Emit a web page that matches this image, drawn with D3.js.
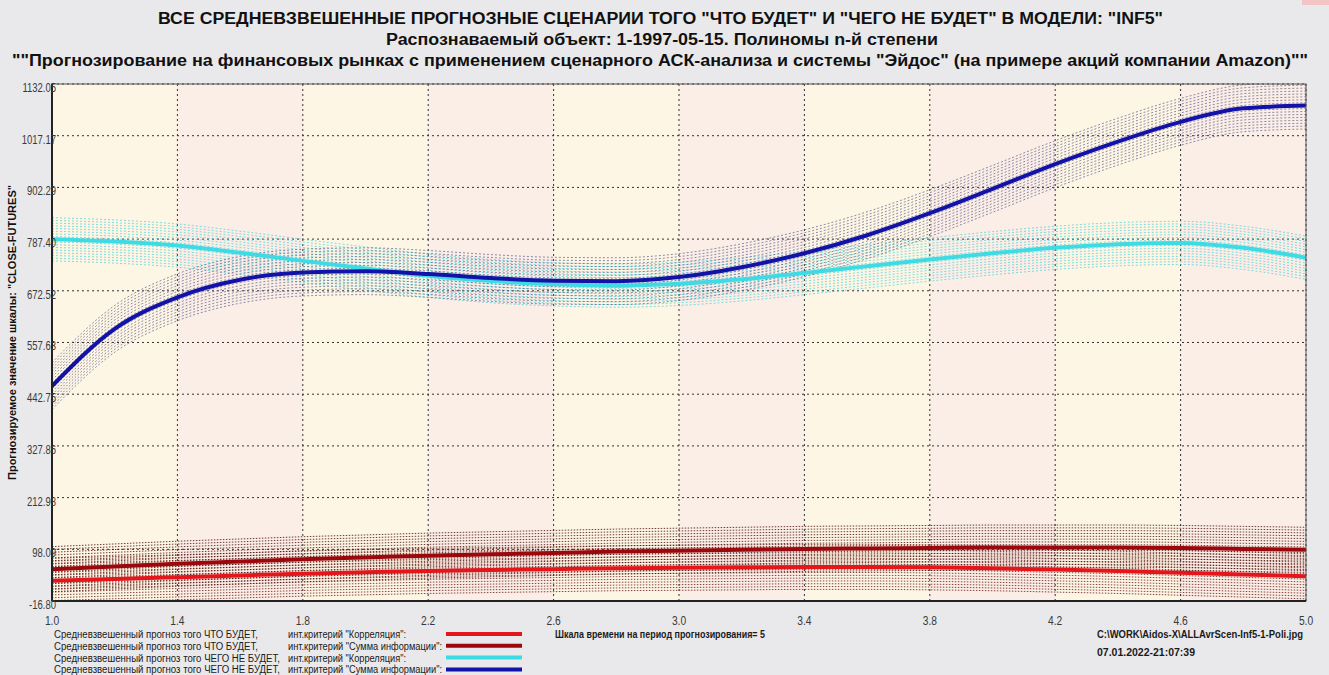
<!DOCTYPE html>
<html>
<head>
<meta charset="utf-8">
<script src="https://cdn.jsdelivr.net/npm/d3@7"></script>
<style>
  body { margin: 0; background: #e9e9eb; }
  svg { display: block; }
  text { font-family: "Liberation Sans", Arial, sans-serif; }
</style>
</head>
<body>
<div id="chart"></div>
<script>
// data
var timePoints = [1.0, 1.2, 1.4, 1.6, 1.8, 2.0, 2.2, 2.4, 2.6, 2.8, 3.0, 3.2, 3.4, 3.6, 3.8, 4.0, 4.2, 4.4, 4.6, 4.8, 5.0];
var willBeCorrelation = [28, 32, 36, 40, 44, 47, 50, 52, 54, 56, 57, 58, 59, 59, 58, 56, 53, 50, 46, 42, 38];
var willBeInfoSum = [54, 60, 66, 71, 76, 80, 84, 87, 90, 93, 95, 97, 99, 100, 101, 102, 102, 102, 101, 99, 97];
var willNotBeCorrelation = [787, 782, 773, 757, 739, 722, 706, 694, 687, 684, 688, 698, 712, 727, 742, 756, 768, 776, 779, 768, 746];
var willNotBeInfoSum = [461, 588, 658, 697, 713, 716, 710, 701, 695, 694, 703, 725, 756, 796, 845, 899, 954, 1004, 1048, 1078, 1084];

var xTicks = [1.0, 1.4, 1.8, 2.2, 2.6, 3.0, 3.4, 3.8, 4.2, 4.6, 5.0];
var yTicks = [1132.05, 1017.17, 902.29, 787.40, 672.52, 557.63, 442.75, 327.86, 212.98, 98.09, -16.80];

var seriesNames = [
  ["Средневзвешенный прогноз того ЧТО БУДЕТ,", "инт.критерий \"Корреляция\":"],
  ["Средневзвешенный прогноз того ЧТО БУДЕТ,", "инт.критерий \"Сумма информации\":"],
  ["Средневзвешенный прогноз того ЧЕГО НЕ БУДЕТ,", "инт.критерий \"Корреляция\":"],
  ["Средневзвешенный прогноз того ЧЕГО НЕ БУДЕТ,", "инт.критерий \"Сумма информации\":"],
];
var seriesValues = [willBeCorrelation, willBeInfoSum, willNotBeCorrelation, willNotBeInfoSum];
var seriesColors = ["#e4161c", "#9c070d", "#3edbe4", "#1212a6"];
var bandColors = ["#6a1818", "#4a0c0c", "#48cfd8", "#5c5c8c"];
var bandSpread = [50, 50, 48, 52]; // half width of the dotted band, in scale units

var titleLines = [
  "ВСЕ СРЕДНЕВЗВЕШЕННЫЕ ПРОГНОЗНЫЕ СЦЕНАРИИ ТОГО \"ЧТО БУДЕТ\" И \"ЧЕГО НЕ БУДЕТ\" В МОДЕЛИ: \"INF5\"",
  "Распознаваемый объект: 1-1997-05-15. Полиномы n-й степени",
  "\"\"Прогнозирование на финансовых рынках с применением сценарного АСК-анализа и системы \"Эйдос\" (на примере акций компании Amazon)\"\"",
];

var width = 1329, height = 675;
var margin = { top: 84, right: 23, bottom: 74, left: 52 };
var plotW = width - margin.left - margin.right;
var plotH = height - margin.top - margin.bottom;

/**
 * It writes a condensed text squeezed to a given width
 */
function fitText(parent, x, y, w, str, size, bold) {
  return parent.append("text")
    .attr("x", x)
    .attr("y", y)
    .attr("textLength", w)
    .attr("lengthAdjust", "spacingAndGlyphs")
    .style("font-size", size + "px")
    .style("font-weight", bold ? "bold" : "normal")
    .attr("fill", "#1a1a1a")
    .text(str);
}

var svg = d3.select("#chart").append("svg")
  .attr("width", width)
  .attr("height", height);

svg.append("rect").attr("width", width).attr("height", height).attr("fill", "#e9e9eb");
// small mark in the top right corner
svg.append("rect").attr("x", 1302).attr("y", 0).attr("width", 27).attr("height", 5).attr("fill", "#f3c4c4");

// titles
var titleSpans = [[158, 1163], [386, 938], [12, 1308]];
titleLines.forEach(function (t, i) {
  fitText(svg, titleSpans[i][0], 24 + i * 21, titleSpans[i][1] - titleSpans[i][0], t, 16, true)
    .attr("fill", "#111");
});

var g = svg.append("g").attr("transform", "translate(" + margin.left + "," + margin.top + ")");

var xScale = d3.scaleLinear().domain([1.0, 5.0]).range([0, plotW]);
var yScale = d3.scaleLinear().domain([-16.80, 1132.05]).range([plotH, 0]);

// alternating background columns
g.selectAll("rect.col")
  .data(d3.pairs(xTicks))
  .enter()
  .append("rect")
  .attr("class", "col")
  .attr("x", function (d) { return xScale(d[0]); })
  .attr("y", 0)
  .attr("width", function (d) { return xScale(d[1]) - xScale(d[0]); })
  .attr("height", plotH)
  .attr("fill", function (d, i) { return i % 2 == 0 ? "#fdf6e4" : "#fbeee6"; });

g.append("clipPath").attr("id", "plotClip")
  .append("rect").attr("width", plotW).attr("height", plotH);

// dotted grid
g.append("g")
  .selectAll("line")
  .data(yTicks)
  .enter()
  .append("line")
  .attr("x1", 0).attr("x2", plotW)
  .attr("y1", function (d) { return yScale(d); })
  .attr("y2", function (d) { return yScale(d); })
  .attr("stroke", "#333")
  .attr("stroke-dasharray", "2,3")
  .attr("stroke-width", 1);

g.append("g")
  .selectAll("line")
  .data(xTicks)
  .enter()
  .append("line")
  .attr("y1", 0).attr("y2", plotH)
  .attr("x1", function (d) { return xScale(d); })
  .attr("x2", function (d) { return xScale(d); })
  .attr("stroke", "#333")
  .attr("stroke-dasharray", "2,3")
  .attr("stroke-width", 1);

var line = function (offset) {
  return d3.line()
    .x(function (d, i) { return xScale(timePoints[i]); })
    .y(function (d) { return yScale(d + offset); })
    .curve(d3.curveMonotoneX);
};

var plot = g.append("g").attr("clip-path", "url(#plotClip)");

// dotted bands around every series
var bandSteps = 8;
seriesValues.forEach(function (vals, s) {
  for (var k = -bandSteps; k <= bandSteps; k++) {
    if (k == 0) continue;
    plot.append("path")
      .datum(vals)
      .attr("d", line(bandSpread[s] * k / bandSteps))
      .attr("fill", "none")
      .attr("stroke", bandColors[s])
      .attr("stroke-width", 1)
      .attr("stroke-opacity", s < 2 ? 0.8 : 0.7)
      .attr("stroke-dasharray", s < 2 ? "1.5,1.5" : "2,2");
  }
});

// main lines
seriesValues.forEach(function (vals, s) {
  plot.append("path")
    .datum(vals)
    .attr("d", line(0))
    .attr("fill", "none")
    .attr("stroke", seriesColors[s])
    .attr("stroke-width", 4)
    .attr("stroke-linecap", "round");
});

// frame
g.append("rect")
  .attr("width", plotW).attr("height", plotH)
  .attr("fill", "none")
  .attr("stroke", "#555")
  .attr("stroke-width", 1);
g.append("line").attr("x1", 0).attr("x2", 0).attr("y1", 0).attr("y2", plotH)
  .attr("stroke", "#222").attr("stroke-width", 2);
g.append("line").attr("x1", 0).attr("x2", plotW).attr("y1", plotH).attr("y2", plotH)
  .attr("stroke", "#222").attr("stroke-width", 2);

// tick labels, condensed
g.append("g")
  .selectAll("text")
  .data(yTicks)
  .enter()
  .append("text")
  .attr("transform", function (d) { return "translate(4," + (yScale(d) + 8) + ") scale(0.76,1)"; })
  .attr("text-anchor", "end")
  .style("font-size", "12.5px")
  .attr("fill", "#3a3a3a")
  .text(function (d) { return d.toFixed(2); });

g.append("g")
  .selectAll("text")
  .data(xTicks)
  .enter()
  .append("text")
  .attr("transform", function (d) { return "translate(" + xScale(d) + "," + (plotH + 24) + ") scale(0.82,1)"; })
  .attr("text-anchor", "middle")
  .style("font-size", "12.5px")
  .attr("fill", "#3a3a3a")
  .text(function (d) { return d.toFixed(1); });

// y axis title
fitText(svg, 0, 0, 295, "Прогнозируемое значение шкалы: \"CLOSE-FUTURES\"", 11, true)
  .attr("transform", "translate(16,480) rotate(-90)")
  .attr("fill", "#111");

// legend
var legend = svg.append("g");
var nameWidths = [204, 204, 226, 226];
var critWidths = [118, 154, 118, 154];
seriesNames.forEach(function (n, i) {
  var y = 638 + i * 11.8;
  fitText(legend, 54, y, nameWidths[i], n[0], 10, false);
  fitText(legend, 288, y, critWidths[i], n[1], 10, false);
  legend.append("line")
    .attr("x1", 446).attr("x2", 522)
    .attr("y1", y - 4).attr("y2", y - 4)
    .attr("stroke", seriesColors[i])
    .attr("stroke-width", 4);
});

fitText(legend, 555, 638, 210, "Шкала времени на период прогнозирования= 5", 11, true);
fitText(legend, 1097, 638, 206, "C:\\WORK\\Aidos-X\\ALLAvrScen-Inf5-1-Poli.jpg", 11, true);
fitText(legend, 1097, 656, 98, "07.01.2022-21:07:39", 11, true);
</script>
</body>
</html>
